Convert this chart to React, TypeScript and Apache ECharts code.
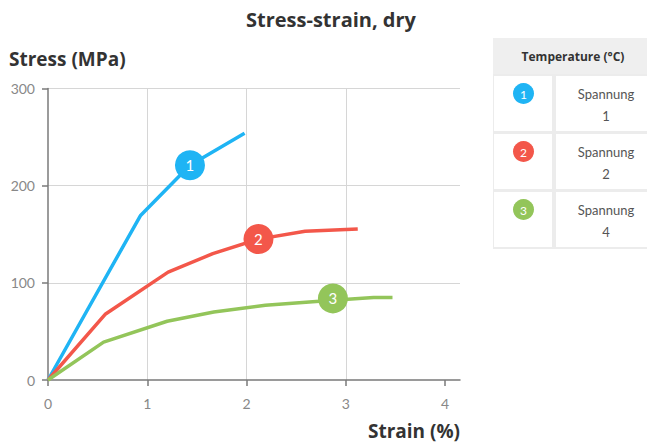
import React, { useEffect, useRef } from "react";
import * as echarts from "echarts";

const titleText = "Stress-strain, dry";
const yName = "Stress (MPa)";
const xName = "Strain (%)";
const legendHeader = "Temperature (°C)";
const seriesNames = ["Spannung 1", "Spannung 2", "Spannung 4"];
const seriesLabels = ["1", "2", "3"];
const colors = ["#1fb4f4", "#f3574a", "#93c55a"];

const blueData = [[0, 0], [0.93, 169], [1.43, 221], [1.98, 254]];
const redData = [[0, 0], [0.58, 68], [1.21, 111], [1.66, 130], [2.12, 145], [2.59, 153], [3.12, 155.5]];
const greenData = [[0, 0], [0.56, 39], [1.2, 60.5], [1.67, 70], [2.19, 77], [2.87, 82], [3.28, 85], [3.47, 85]];
const labelPoints = [[1.43, 221], [2.12, 145], [2.87, 84]];

const xTicks = [0, 1, 2, 3, 4];
const yTicks = [0, 100, 200, 300];

const FONT = "Lato, 'Open Sans', sans-serif";
const HFONT = "'Open Sans', Lato, sans-serif";

export default function App() {
  const ref = useRef<HTMLDivElement>(null);
  useEffect(() => {
    if (!ref.current) return;
    const chart = echarts.init(ref.current, null, { renderer: "svg" });
    const datas = [blueData, redData, greenData];

    const series = datas.map((d, i) => ({
      type: "line",
      name: seriesNames[i],
      data: d,
      showSymbol: false,
      symbol: "none",
      lineStyle: { color: colors[i], width: 3.5 },
      itemStyle: { color: colors[i] },
      z: 3,
      markPoint: {
        symbol: "circle",
        symbolSize: 30,
        itemStyle: { color: colors[i] },
        label: { show: true, formatter: seriesLabels[i], color: "#fff", fontSize: 15, fontFamily: FONT },
        data: [{ coord: labelPoints[i] }],
      },
    }));

    const tableLeft = 493;
    const tableRight = 647;
    const headerTop = 38;
    const headerBottom = 74;
    const rowH = 58;
    const colDiv = 554;
    const g: any[] = [];
    g.push({ type: "rect", shape: { x: tableLeft, y: headerTop, width: tableRight - tableLeft, height: headerBottom - headerTop + 3 * rowH + 1 }, style: { fill: "#ececec" } });
    g.push({ type: "rect", shape: { x: tableLeft, y: headerTop, width: tableRight - tableLeft, height: headerBottom - headerTop }, style: { fill: "#efefef" } });
    g.push({ type: "text", x: 573, y: 56.5, style: { text: legendHeader, font: `bold 12px ${HFONT}`, fill: "#333", align: "center", verticalAlign: "middle" } });
    seriesNames.forEach((name, i) => {
      const top = headerBottom + i * rowH + 2;
      g.push({ type: "rect", shape: { x: tableLeft + 1, y: top, width: colDiv - 2 - tableLeft - 1, height: rowH - 3 }, style: { fill: "#fff" } });
      g.push({ type: "rect", shape: { x: colDiv + 2, y: top, width: tableRight - colDiv - 2, height: rowH - 3 }, style: { fill: "#fff" } });
      g.push({ type: "circle", shape: { cx: 523.5, cy: top + 17.5, r: 10.5 }, style: { fill: colors[i] } });
      g.push({ type: "text", x: 523.5, y: top + 18, style: { text: seriesLabels[i], font: `12px ${FONT}`, fill: "#fff", align: "center", verticalAlign: "middle" } });
      const parts = name.split(" ");
      g.push({ type: "text", x: 606, y: top + 17.5, style: { text: parts[0], font: `13px ${FONT}`, fill: "#555", align: "center", verticalAlign: "middle" } });
      g.push({ type: "text", x: 606, y: top + 39.5, style: { text: parts[1], font: `13px ${FONT}`, fill: "#555", align: "center", verticalAlign: "middle" } });
    });
    g.push({ type: "text", x: 331, y: 19, style: { text: titleText, font: `bold 20px ${HFONT}`, fill: "#333", align: "center", verticalAlign: "middle" } });
    g.push({ type: "text", x: 9, y: 59, style: { text: yName, font: `bold 19px ${HFONT}`, fill: "#333", align: "left", verticalAlign: "middle" } });
    g.push({ type: "text", x: 460, y: 431, style: { text: xName, font: `bold 19px ${HFONT}`, lineHeight: 20, fill: "#333", align: "right", verticalAlign: "middle" } });

    chart.setOption({
      animation: false,
      backgroundColor: "#fff",
      grid: { left: 48, right: 187, top: 88.5, bottom: 63, containLabel: false },
      xAxis: {
        type: "value",
        min: 0,
        max: 4.15,
        interval: 1,
        axisLine: { show: true, onZero: false, lineStyle: { color: "#7a7a7a", width: 1.5 } },
        axisTick: { show: true, length: 6, customValues: xTicks, lineStyle: { color: "#7a7a7a", width: 1.5 } },
        axisLabel: { customValues: xTicks, margin: 16, color: "#888", fontSize: 14, fontFamily: FONT },
        splitLine: { show: true, showMinLine: false, showMaxLine: false, lineStyle: { color: "#d6d6d6", width: 1 } },
      },
      yAxis: {
        type: "value",
        min: 0,
        max: 300,
        interval: 100,
        axisLine: { show: true, onZero: false, lineStyle: { color: "#7a7a7a", width: 1.5 } },
        axisTick: { show: true, length: 6, customValues: yTicks, lineStyle: { color: "#7a7a7a", width: 1.5 } },
        axisLabel: { customValues: yTicks, margin: 13, color: "#888", fontSize: 14, fontFamily: FONT },
        splitLine: { show: true, showMinLine: false, lineStyle: { color: "#d6d6d6", width: 1 } },
      },
      series,
      graphic: g,
    });
    return () => chart.dispose();
  }, []);
  return <div ref={ref} style={{ width: 647, height: 443, position: "absolute", left: 0, top: 0 }} />;
}
